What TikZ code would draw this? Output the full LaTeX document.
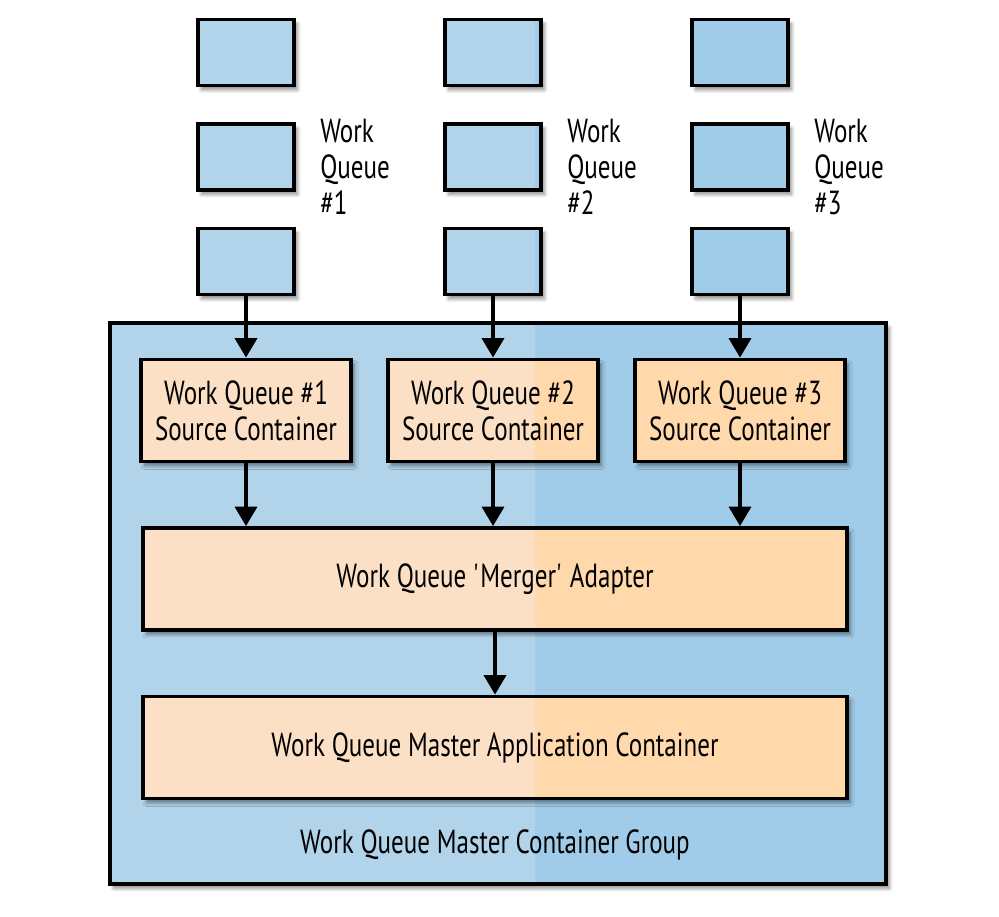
\documentclass[tikz,border=0pt]{standalone}
\usepackage{fontspec}
\setmainfont{PT Sans}[FakeStretch=0.75]
\usetikzlibrary{arrows.meta,positioning,shadows.blur}
\definecolor{qblue}{RGB}{177,212,234}
\definecolor{qbluer}{RGB}{160,204,233}
\definecolor{qpeach}{RGB}{252,224,197}
\definecolor{qpeachr}{RGB}{255,216,172}

\begin{document}
\begin{tikzpicture}[
    txt/.style={font=\fontsize{19}{20.5}\selectfont},
    tone/.style={path picture={\fill[#1] (split |- path picture bounding box.south) rectangle (path picture bounding box.north east);}},
    shade/.style={blur shadow={shadow xshift=2pt,shadow yshift=-2.5pt,shadow blur steps=8,shadow opacity=45}},
    qitem/.style={draw=black,line width=2.2pt,fill=qblue,tone=qbluer,shade,minimum width=1.92cm,minimum height=1.32cm},
    cbox/.style={draw=black,line width=2.2pt,fill=qpeach,tone=qpeachr,shade,txt,align=center,minimum height=2.04cm},
    flow/.style={line width=1.9pt,-{Triangle[width=12.5pt,length=11pt]}}
  ]
  \useasboundingbox (0,0) rectangle (19.98,-18.34);
  \coordinate (split) at (10.7,0);

  % container group
  \node[draw=black,line width=2.2pt,fill=qblue,tone=qbluer,shade,minimum width=15.52cm,minimum height=11.22cm] (group) at (9.96,-12.07) {};
  \node[txt] (grouplbl) at (9.9,-16.9) {Work Queue Master Container Group};

  % work queues
  \foreach \i/\x in {1/4.92,2/9.86,3/14.8}{
    \node[qitem] (q\i a) at (\x,-1.05) {};
    \node[qitem] (q\i b) at (\x,-3.14) {};
    \node[qitem] (q\i c) at (\x,-5.23) {};
    \node[txt,align=left,inner sep=0pt,anchor=north west] (q\i lbl) at ([xshift=0.48cm,yshift=0.06cm]q\i b.north east) {Work\\Queue\\\#\i};
    \node[cbox,minimum width=4.2cm] (s\i) at (\x,-8.21) {Work Queue \#\i\\Source Container};
  }

  \node[cbox,minimum width=14.08cm] (merger) at (9.9,-11.58) {Work Queue \textquotesingle Merger\textquotesingle\ Adapter};
  \node[cbox,minimum width=14.08cm] (master) at (9.9,-14.95) {Work Queue Master Application Container};

  % connectors
  \foreach \i in {1,2,3}{
    \draw[flow] (q\i c) -- (s\i);
    \draw[flow] (s\i) -- (s\i |- merger.north);
  }
  \draw[flow] (merger) -- (master);
\end{tikzpicture}
\end{document}
